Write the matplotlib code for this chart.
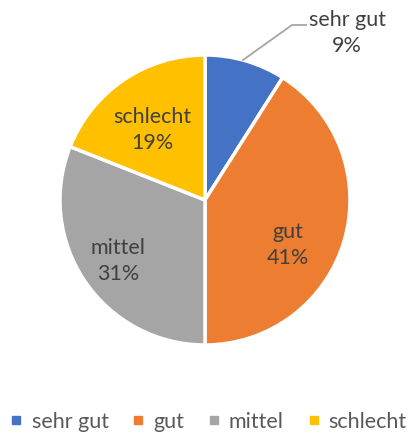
import matplotlib
matplotlib.use("Agg")
import matplotlib.pyplot as plt
from matplotlib.lines import Line2D

categories = ["sehr gut", "gut", "mittel", "schlecht"]
values = [9, 41, 31, 19]
colors = ["#4472C4", "#ED7D31", "#A5A5A5", "#FFC000"]

W, H = 411, 436
fig = plt.figure(figsize=(W / 100, H / 100), dpi=100)
ax = fig.add_axes([0, 0, 1, 1])
ax.set_xlim(0, W)
ax.set_ylim(0, H)
ax.set_aspect("equal")
ax.axis("off")

cx, cy, R = 205, H - 200, 145
wedges, _ = ax.pie(values, colors=colors, startangle=90, counterclock=False,
                   center=(cx, cy), radius=R,
                   wedgeprops=dict(edgecolor="white", linewidth=2.5))
ax.set_xlim(0, W)
ax.set_ylim(0, H)

font = "Lato"
tc = "#404040"
fs = 15.5
# inside labels
pos = {1: (288, 245), 2: (118, 261), 3: (152, 130)}
for i, (x, y) in pos.items():
    ax.text(x, H - y, f"{categories[i]}\n{values[i]}%", ha="center", va="center",
            fontsize=fs, color=tc, family=font, linespacing=1.35)

# outside label with leader line
ax.plot([243, 292, 306], [H - 60, H - 25, H - 25], color="#A5A5A5", lw=1.3)
ax.text(347, H - 33, f"{categories[0]}\n{values[0]}%", ha="center", va="center",
        fontsize=fs, color=tc, family=font, linespacing=1.35)

handles = [Line2D([], [], marker="s", linestyle="none", markersize=6,
                  markerfacecolor=c, markeredgecolor=c) for c in colors]
leg = ax.legend(handles, categories, loc="center", bbox_to_anchor=(0.507, 1 - 422 / H),
                ncol=4, frameon=False, handlelength=0.6, handletextpad=0.4,
                columnspacing=1.08, prop=dict(family=font, size=fs))
for t in leg.get_texts():
    t.set_color("#595959")

fig.savefig("out.png", dpi=100)
